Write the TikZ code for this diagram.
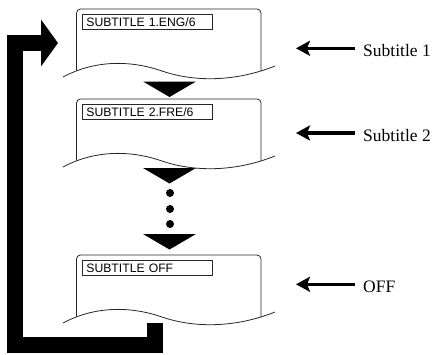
\documentclass[tikz,border=0pt]{standalone}
\usepackage{fontspec}
\setmainfont{Liberation Serif}
\newfontfamily\osdfont{Liberation Sans}
\usetikzlibrary{arrows.meta,positioning}

\begin{document}
\begin{tikzpicture}[x=1pt,y=-1pt,
  screen/.style={draw=black!85,line width=0.8pt},
  osd/.style={draw=black!85,line width=0.8pt,anchor=north west,align=left,
    font=\osdfont\fontsize{12.2}{14}\selectfont,text width=122pt,
    inner xsep=4pt,inner ysep=0pt,minimum height=14.5pt,text height=8.8pt,text depth=0pt},
  lbl/.style={anchor=west,inner xsep=8pt,inner ysep=0pt,
    font=\fontsize{17.5}{20}\selectfont,text height=17pt,text depth=0pt},
  pointer/.style={line width=3.5pt,-{Stealth[length=14pt,width=15pt,inset=3pt]}},
  loopback/.style={line width=16pt,line join=miter,-{Triangle[length=17pt,width=46pt]}}
]
\useasboundingbox (0,0) rectangle (435,354);

% screens
\foreach \d/\n/\t in {9/1/{SUBTITLE 1.ENG/6},99/2/{SUBTITLE 2.FRE/6},255/3/{SUBTITLE OFF}} {
  \begin{scope}[yshift=-\d pt]
    \draw[screen,rounded corners=4pt] (76.5,61.5) |- (261,0) -- (261,62);
    \draw[screen] (63,68) .. controls (95,51) and (130,51) .. (162,62)
      .. controls (194,73) and (235,73) .. (275,57);
    \node[osd] (box\n) at (82,5) {\t};
  \end{scope}
}

% down arrows and dots
\foreach \y in {81.5,168,234}
  \fill (143,\y) -- (196,\y) -- (169.5,\y+15.5) -- cycle;
\foreach \y in {193,209,224}
  \fill (170,\y) circle (4pt);

% labels
\coordinate (tip1) at (296,48.3);
\coordinate (tip2) at (296,133);
\coordinate (tip3) at (296,284.3);
\node[lbl] (lab1) at (355,48.3) {Subtitle 1};
\node[lbl] (lab2) at (355,133) {Subtitle 2};
\node[lbl] (lab3) at (355,284.3) {OFF};
\draw[pointer] (lab1.west) -- (tip1);
\draw[pointer] (lab2.west) -- (tip2);
\draw[pointer] (lab3.west) -- (tip3);

% loop back to the first screen
\coordinate (loopstart) at (154.5,323);
\coordinate (loopend) at (58,43);
\draw[loopback] (loopstart) -- (154.5,345) -| (14.7,43) -- (loopend);
\end{tikzpicture}
\end{document}
